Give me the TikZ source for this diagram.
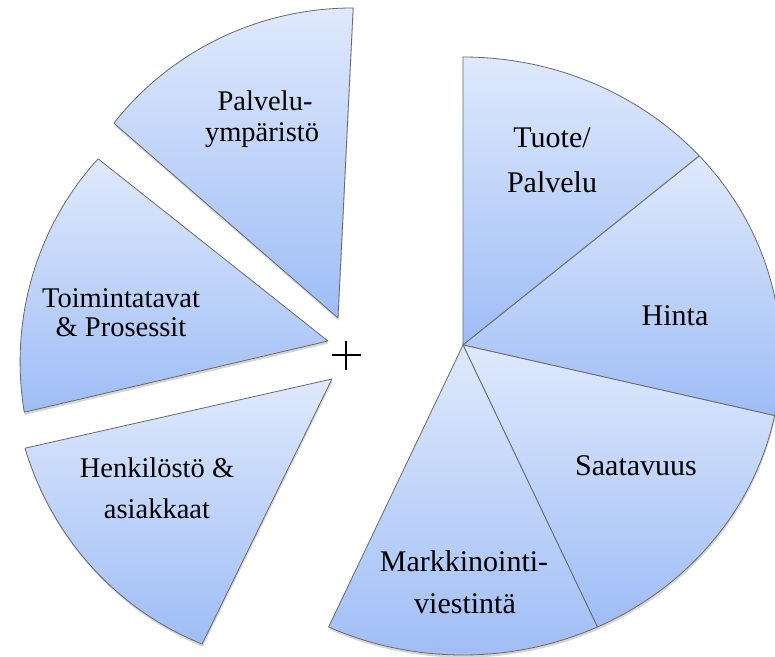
\documentclass[tikz,border=0pt]{standalone}
\usepackage{fontspec}
\setmainfont{Liberation Serif}
\newfontfamily\lserif{Liberation Serif}
\definecolor{wtop}{RGB}{223,233,252}
\definecolor{wbot}{RGB}{158,189,246}
\definecolor{wline}{RGB}{105,105,105}
\tikzset{
  wedgefill/.style={top color=wtop, bottom color=wbot, draw=wline, line width=0.8pt, line join=round,
    preaction={fill=black, opacity=0.16, transform canvas={xshift=0.6pt, yshift=-2.6pt}}},
  lbl/.style={anchor=base, inner sep=0pt, font=\lserif\fontsize{30}{36}\selectfont},
  lbll/.style={anchor=base, inner sep=0pt, font=\lserif\fontsize{28.5}{34}\selectfont},
  plusbar/.style={line width=1.6pt, black}
}
% right pie wedge: start angle, end angle (ellipse parameter)
\newcommand\rwedge[2]{%
  \path[wedgefill] (463,311) -- ({463+318*cos(#1)},{300+299*sin(#1)})
    arc[start angle=#1, end angle=#2, x radius=318, y radius=299] -- cycle;}
% left wedge: apex x, apex y, angle1, radius1, angle2, radius2
\newcommand\lwedge[6]{%
  \path[wedgefill] (#1,#2) -- plot[domain=#3:#5, samples=50, variable=\t]
    ({#1+(#4+(#6-#4)*(\t-#3)/(#5-#3))*cos(\t)},{#2+(#4+(#6-#4)*(\t-#3)/(#5-#3))*sin(\t)}) -- cycle;}
\begin{document}
\begin{tikzpicture}[x=1pt,y=1pt]
\useasboundingbox (0,0) rectangle (775,656);
\clip (0,0) rectangle (775,656);
% left, exploded wedges
\lwedge{338}{338}{87.2}{310.4}{139}{297}
\lwedge{328}{315}{141.6}{293.3}{193.2}{312}
\lwedge{332}{277}{192.7}{314.7}{243.9}{295.2}
% right wedges
\rwedge{90}{42}
\rwedge{42}{-11.5}
\rwedge{-11.5}{-65}
\rwedge{-65}{-115}
% plus sign
\coordinate (pl) at (332,301); \coordinate (pr) at (361,301);
\coordinate (pt) at (346,315); \coordinate (pb) at (346,286);
\draw[plusbar] (pl) -- (pr);
\draw[plusbar] (pt) -- (pb);
% labels
\node[lbl] (tuote1) at (552,508) {Tuote/};
\node[lbl] (tuote2) at (552,463) {Palvelu};
\node[lbl] (hinta) at (675,330) {Hinta};
\node[lbl] (saat) at (636,181) {Saatavuus};
\node[lbl] (mark1) at (464,85) {Markkinointi-};
\node[lbl] (mark2) at (465,43) {viestintä};
\node[lbll] (pal1) at (265,545) {Palvelu-};
\node[lbll] (pal2) at (262,514) {ympäristö};
\node[lbll] (toim1) at (121,348) {Toimintatavat};
\node[lbll] (toim2) at (121,319) {\& Prosessit};
\node[lbll] (henk1) at (157,179) {Henkilöstö \&};
\node[lbll] (henk2) at (157,138) {asiakkaat};
\end{tikzpicture}
\end{document}
